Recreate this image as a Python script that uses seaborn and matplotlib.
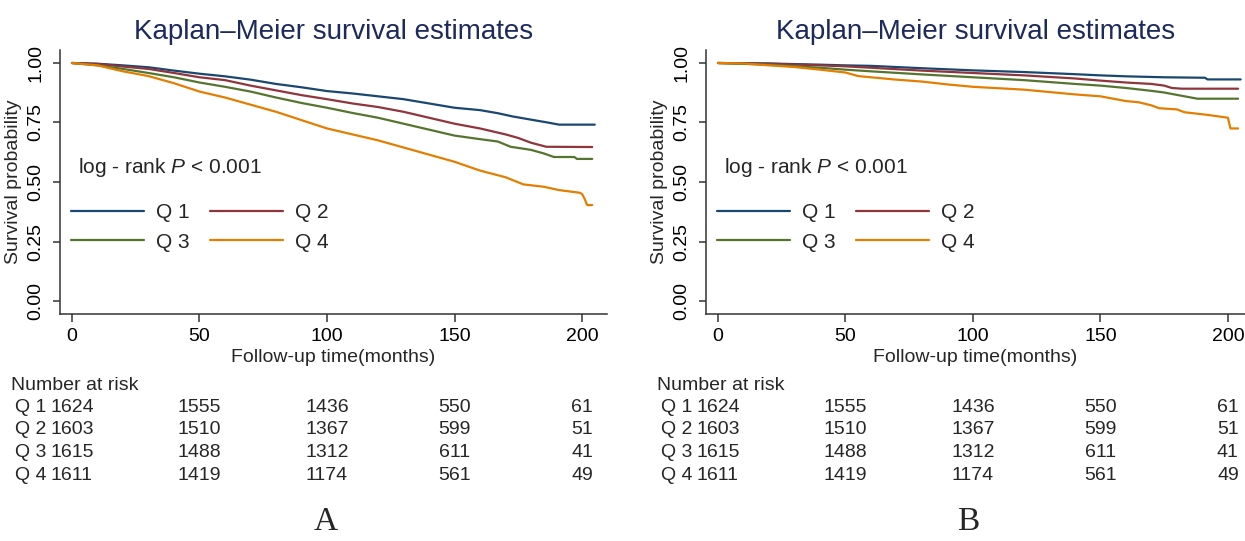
import numpy as np
import pandas as pd
import matplotlib
matplotlib.use("Agg")
import matplotlib.pyplot as plt
import matplotlib.transforms as mtransforms
import seaborn as sns

# === DONNEES ===
GROUPS = ["Q 1", "Q 2", "Q 3", "Q 4"]
COLORS = ["#1a476f", "#90353b", "#55752f", "#e37e00"]

# panel A
A_T_Q1 = [0, 10, 20, 30, 40, 50, 60, 70, 80, 90, 100, 110, 120, 130, 140, 150, 160, 167, 173, 180, 187, 191, 205]
A_S_Q1 = [1.0, 0.997, 0.99, 0.982, 0.968, 0.955, 0.944, 0.93, 0.912, 0.898, 0.882, 0.872, 0.86, 0.848, 0.83,
          0.812, 0.802, 0.789, 0.775, 0.762, 0.749, 0.741, 0.741]
A_T_Q2 = [0, 10, 20, 30, 40, 50, 60, 70, 80, 90, 100, 110, 120, 130, 140, 150, 160, 170, 175, 180, 186, 204]
A_S_Q2 = [1.0, 0.996, 0.985, 0.975, 0.958, 0.94, 0.928, 0.905, 0.885, 0.865, 0.848, 0.83, 0.815, 0.795, 0.77,
          0.745, 0.725, 0.7, 0.685, 0.665, 0.648, 0.647]
A_T_Q3 = [0, 10, 20, 30, 40, 50, 60, 70, 80, 90, 100, 110, 120, 130, 140, 150, 160, 167, 172, 180, 185, 189, 197, 198, 204]
A_S_Q3 = [1.0, 0.99, 0.975, 0.958, 0.94, 0.918, 0.9, 0.88, 0.855, 0.832, 0.812, 0.79, 0.77, 0.745, 0.72,
          0.695, 0.68, 0.67, 0.648, 0.635, 0.62, 0.605, 0.605, 0.597, 0.597]
A_T_Q4 = [0, 10, 20, 30, 40, 50, 60, 70, 80, 90, 100, 110, 120, 130, 140, 150, 160, 170, 177, 185, 191, 199, 200, 201, 202, 204]
A_S_Q4 = [1.0, 0.99, 0.965, 0.945, 0.915, 0.88, 0.855, 0.825, 0.795, 0.76, 0.725, 0.7, 0.675, 0.645, 0.615,
          0.585, 0.548, 0.52, 0.49, 0.48, 0.466, 0.455, 0.45, 0.43, 0.403, 0.403]

# panel B
B_T_Q1 = [0, 20, 40, 50, 60, 80, 100, 120, 140, 150, 160, 175, 191, 192, 205]
B_S_Q1 = [1.0, 0.998, 0.993, 0.99, 0.988, 0.978, 0.969, 0.962, 0.953, 0.948, 0.944, 0.94, 0.938, 0.931, 0.931]
B_T_Q2 = [0, 20, 40, 50, 60, 80, 100, 120, 140, 150, 160, 170, 175, 178, 182, 204]
B_S_Q2 = [1.0, 0.997, 0.99, 0.986, 0.98, 0.968, 0.958, 0.948, 0.935, 0.926, 0.918, 0.912, 0.905, 0.895, 0.892, 0.892]
B_T_Q3 = [0, 20, 40, 50, 60, 80, 100, 120, 140, 150, 160, 170, 175, 180, 188, 204]
B_S_Q3 = [1.0, 0.993, 0.98, 0.972, 0.965, 0.952, 0.94, 0.928, 0.912, 0.905, 0.895, 0.883, 0.876, 0.866, 0.85, 0.85]
B_T_Q4 = [0, 10, 20, 30, 40, 50, 55, 60, 70, 80, 90, 100, 110, 120, 130, 140, 150, 155, 160, 165, 170, 173,
          180, 183, 192, 200, 201, 204]
B_S_Q4 = [1.0, 0.998, 0.99, 0.983, 0.972, 0.96, 0.945, 0.94, 0.93, 0.922, 0.91, 0.9, 0.894, 0.888, 0.878, 0.868,
          0.86, 0.85, 0.84, 0.835, 0.822, 0.81, 0.805, 0.793, 0.782, 0.77, 0.725, 0.725]

# number at risk (identique pour A et B)
RISK_TIMES = [0, 50, 100, 150, 200]
RISK_Q1 = [1624, 1555, 1436, 550, 61]
RISK_Q2 = [1603, 1510, 1367, 599, 51]
RISK_Q3 = [1615, 1488, 1312, 611, 41]
RISK_Q4 = [1611, 1419, 1174, 561, 49]

XTICKS = [0, 50, 100, 150, 200]
YTICKS = [0.0, 0.25, 0.5, 0.75, 1.0]
YTICKLABELS = ["0.00", "0.25", "0.50", "0.75", "1.00"]
TITLE = "Kaplan\u2013Meier survival estimates"


def long_df(times, survs):
    parts = []
    for g, t, s in zip(GROUPS, times, survs):
        parts.append(pd.DataFrame({"time": t, "surv": s, "group": g}))
    return pd.concat(parts, ignore_index=True)


df_a = long_df([A_T_Q1, A_T_Q2, A_T_Q3, A_T_Q4], [A_S_Q1, A_S_Q2, A_S_Q3, A_S_Q4])
df_b = long_df([B_T_Q1, B_T_Q2, B_T_Q3, B_T_Q4], [B_S_Q1, B_S_Q2, B_S_Q3, B_S_Q4])
risk = [RISK_Q1, RISK_Q2, RISK_Q3, RISK_Q4]

# === STYLE ===
sns.set_style("ticks")
plt.rcParams["font.family"] = ["Liberation Sans", "DejaVu Sans"]
plt.rcParams["mathtext.fontset"] = "custom"
plt.rcParams["mathtext.rm"] = "Liberation Sans"
plt.rcParams["mathtext.it"] = "Liberation Sans:italic"
plt.rcParams["axes.edgecolor"] = "#333333"
plt.rcParams["axes.linewidth"] = 1.1

W, H = 1245, 541
fig = plt.figure(figsize=(W / 100, H / 100), dpi=100)
fig.patch.set_facecolor("white")

panels = [
    (df_a, [60, 607], -4.7, 209.8, "A"),
    (df_b, [706, 1245], -4.7, 206.7, "B"),
]

for data, (px0, px1), xmin, xmax, letter in panels:
    ax = fig.add_axes([px0 / W, 1 - 314 / H, (px1 - px0) / W, 264 / H])
    sns.lineplot(data=data, x="time", y="surv", hue="group", palette=COLORS,
                 estimator=None, linewidth=1.6, ax=ax)
    ax.set_xlim(xmin, xmax)
    ax.set_ylim(-0.0546, 1.0546)
    sns.despine(ax=ax)

    ax.set_xticks(XTICKS)
    ax.set_yticks(YTICKS)
    ax.set_yticklabels(YTICKLABELS, rotation=90, va="center")
    ax.tick_params(axis="x", length=6, width=1.1, pad=4, labelsize=14, colors="#333333", labelcolor="black")
    ax.tick_params(axis="y", length=5, width=1.1, pad=6, labelsize=14, colors="#333333", labelcolor="black")
    ax.set_xlabel("Follow-up time(months)", fontsize=14, labelpad=3)
    ax.set_ylabel("Survival probability", fontsize=14, labelpad=4)
    ax.set_title(TITLE, fontsize=20, color="#1c2a5c", pad=8)

    ax.text(2.4, 0.56, r"log - rank $\mathit{P}$ < 0.001", fontsize=15, va="center", ha="left")

    # legende en lignes : Q1 Q2 / Q3 Q4
    handles, labels = ax.get_legend_handles_labels()
    order = [0, 2, 1, 3]
    ax.legend([handles[i] for i in order], [labels[i] for i in order], ncol=2, frameon=False, fontsize=15,
              loc="upper left", bbox_to_anchor=(0.02, 0.42),
              handlelength=3.5, handletextpad=0.6, columnspacing=0.95,
              labelspacing=0.5, borderpad=0, borderaxespad=0)

    # === NUMBER AT RISK ===
    trans = mtransforms.blended_transform_factory(ax.transData, fig.transFigure)
    ax.text(-24, 1 - 385 / H, "Number at risk", transform=trans, fontsize=14,
            ha="left", va="center", clip_on=False)
    for i, (g, row) in enumerate(zip(GROUPS, risk)):
        y = 1 - (407 + i * 22.8) / H
        ax.text(-10, y, g, transform=trans, fontsize=14, ha="right", va="center", clip_on=False)
        for t, n in zip(RISK_TIMES, row):
            ax.text(t, y, str(n), transform=trans, fontsize=14, ha="center", va="center", clip_on=False)

    fig.text((px0 + px1) / 2 / W - 0.006, 1 - 522 / H, letter, fontsize=24,
             family=["Liberation Serif", "DejaVu Serif"], ha="center", va="center")

fig.savefig("out.png", dpi=100)
